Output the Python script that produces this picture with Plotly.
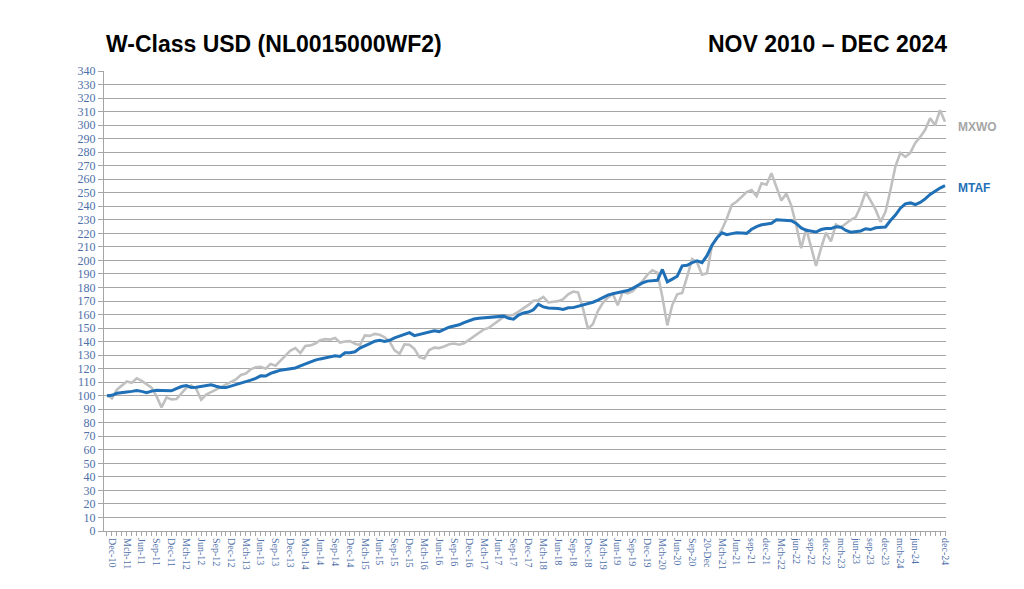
import plotly.graph_objects as go

# Monthly index points, Nov 2010 .. Dec 2024 (170 points)
mtaf = [
    100, 100.3, 101.8, 102.5, 102.7, 103.2, 103.8, 103.2, 102.3, 103.4,
    104, 103.9, 103.7, 103.6, 105.2, 106.8, 107.5, 106.1, 106.3, 106.8,
    107.5, 108, 107, 106.1, 106, 107, 108, 109.4, 110.5, 111.5,
    112.8, 114.7, 114.5, 116.5, 117.7, 118.9, 119.4, 119.8, 120.5, 122,
    123.5, 125, 126.3, 127.2, 128.1, 129, 129.5, 129, 131.7, 131.7,
    132.5, 135.2, 136.6, 138.5, 140.3, 141, 140.1, 141, 142.8, 144.2,
    145.3, 146.6, 144.4, 145.2, 146.3, 147.3, 148, 147.4, 149.2, 150.6,
    151.5, 152.4, 154, 155.2, 156.7, 157.3, 157.7, 158.1, 158.5, 158.8,
    158.8, 157.2, 156.5, 159.6, 161.2, 161.8, 163.5, 167.7, 165.6, 164.8,
    164.7, 164.5, 163.8, 165, 165.1, 166, 167.3, 168, 169.1, 170.6,
    172.5, 174.4, 175.3, 176, 177, 177.7, 179.3, 181.5, 183.4, 184.7,
    185.1, 185.3, 193.3, 184.1, 186.2, 188.3, 196, 196.4, 198.3, 199.6,
    198.3, 203.5, 211.2, 216.5, 220.4, 219, 219.8, 220.5, 220.3, 220,
    223, 225, 226.3, 227, 227.4, 230, 229.9, 229.6, 229.3, 227.3,
    224, 222.3, 221.4, 221, 222.8, 223.5, 223.5, 224.8, 224.6, 222.1,
    220.9, 221.3, 221.8, 223.4, 222.8, 224.1, 224.6, 224.7, 229.5, 233.5,
    238.6, 241.8, 242.5, 241.3, 242.9, 245.5, 248.8, 251.4, 253.5, 255.2,
]

mxwo = [
    100.5, 98, 104.5, 107.8, 110.5, 109.5, 112.8, 111, 108.5, 106,
    99.5, 91.4, 98.8, 97.3, 97.5, 102, 105.8, 107.6, 105, 97,
    100.8, 102.6, 104.5, 106.3, 108.1, 110, 112, 115.3, 116.4, 119.5,
    121, 121.4, 120, 123.5, 122.2, 126, 130, 133.3, 135.2, 131.5,
    136.7, 137.2, 138.6, 141, 141.8, 141.5, 142.6, 139.3, 140.1, 140.3,
    138.4, 137.4, 144.6, 144.2, 145.7, 145, 143.2, 140, 133.5, 131,
    138, 137.6, 134.6, 128.5, 127.5, 133.8, 135.5, 135.2, 136.4, 138,
    138.6, 137.7, 138.8, 141.4, 144, 146.5, 148.9, 150.1, 152.6, 155.3,
    158.2, 159.2, 159.9, 162.1, 164.3, 167.1, 170.1, 170.6, 173, 168.9,
    169.4, 169.9, 171.3, 175, 177, 176.3, 164.3, 149.4, 153, 162.5,
    168.6, 172.5, 175.3, 166.8, 176.8, 175.6, 177.2, 180.6, 184.7, 189.5,
    192.7, 191, 173, 152, 167, 175, 176, 188, 201, 198.5,
    189.5, 190.5, 211, 217, 222.7, 231, 241, 243.5, 247, 250.5,
    252, 247.5, 257, 256, 264.4, 254, 244.2, 249.5, 240.5, 226,
    209, 223.5, 209, 196, 209, 220.5, 214, 226.5, 224.3, 227,
    230, 232, 240, 250.6, 244.5, 237.5, 228.5, 236, 252, 269.5,
    279.5, 276.5, 279.5, 286.8, 291.3, 296.5, 305, 300, 311, 302.5,
]

tick_labels = [
    "Dec-10", "Mch-11", "Jun-11", "Sep-11", "Dec-11", "Mch-12", "Jun-12", "Sep-12",
    "Dec-12", "Mch-13", "Jun-13", "Sep-13", "Dec-13", "Mch-14", "Jun-14", "Sep-14",
    "Dec-14", "Mch-15", "Jun-15", "Sep-15", "Dec-15", "Mch-16", "Jun-16", "Sep-16",
    "Dec-16", "Mch-17", "Jun-17", "Sep-17", "Dec-17", "Mch-18", "Jun-18", "Sep-18",
    "Dec-18", "Mch-19", "Jun-19", "Sep-19", "Dec-19", "Mch-20", "Jun-20", "Sep-20",
    "20-Dec", "Mch-21", "Jun-21", "sep-21", "dec-21", "Mch-22", "jun-22", "sep-22",
    "dec-22", "mch-23", "jun-23", "sep-23", "dec-23", "mch-24", "jun-24", "dec-24",
]
# month index of each label (0 = Nov-10): quarterly up to jun-24, then dec-24
tick_positions = [1 + 3 * k for k in range(55)] + [169]

y_ticks = list(range(0, 350, 10))

BLUE = "#1F70B6"
GREY = "#C0C0C0"
AXIS_TXT = "#4E6FA8"

x_idx = list(range(len(mtaf)))

fig = go.Figure()
fig.add_trace(go.Scatter(x=x_idx, y=mxwo, mode="lines", name="MXWO",
                         line=dict(color=GREY, width=2.6)))
fig.add_trace(go.Scatter(x=x_idx, y=mtaf, mode="lines", name="MTAF",
                         line=dict(color=BLUE, width=3)))

fig.update_layout(
    width=1024, height=589,
    margin=dict(l=104, r=78, t=71, b=58),
    paper_bgcolor="white", plot_bgcolor="white",
    showlegend=False,
    xaxis=dict(
        range=[-0.6, 169.2],
        tickvals=tick_positions, ticktext=tick_labels,
        tickangle=90, ticks="outside", ticklen=4, tickcolor="#A6A6A6",
        tickfont=dict(family="Liberation Serif", size=10, color=AXIS_TXT),
        showgrid=False, zeroline=False,
        showline=True, linecolor="#A6A6A6", linewidth=1,
        minor=dict(dtick=1, tick0=0, ticks="outside", ticklen=4, tickcolor="#A6A6A6"),
    ),
    yaxis=dict(
        range=[0, 340],
        tickvals=y_ticks,
        ticks="outside", ticklen=5, tickcolor="#A6A6A6",
        tickfont=dict(family="Liberation Serif", size=12, color=AXIS_TXT),
        showgrid=True, gridcolor="#A6A6A6", gridwidth=1,
        zeroline=False,
        showline=True, linecolor="#A6A6A6", linewidth=1,
    ),
    annotations=[
        dict(text="<b>W-Class USD (NL0015000WF2)</b>", xref="paper", yref="paper",
             x=0.0, y=1.0, xanchor="left", yanchor="bottom", yshift=12, showarrow=False,
             font=dict(family="Liberation Sans", size=23, color="black")),
        dict(text="<b>NOV 2010 – DEC 2024</b>", xref="paper", yref="paper",
             x=1.003, y=1.0, xanchor="right", yanchor="bottom", yshift=12, showarrow=False,
             font=dict(family="Liberation Sans", size=23, color="black")),
        dict(text="<b>MXWO</b>", xref="paper", yref="y", x=1.012, y=298.6,
             xanchor="left", yanchor="middle", showarrow=False,
             font=dict(family="Liberation Sans", size=12, color="#A6A6A6")),
        dict(text="<b>MTAF</b>", xref="paper", yref="y", x=1.012, y=253.5,
             xanchor="left", yanchor="middle", showarrow=False,
             font=dict(family="Liberation Sans", size=12, color=BLUE)),
    ],
)

fig.write_html("out.html")
